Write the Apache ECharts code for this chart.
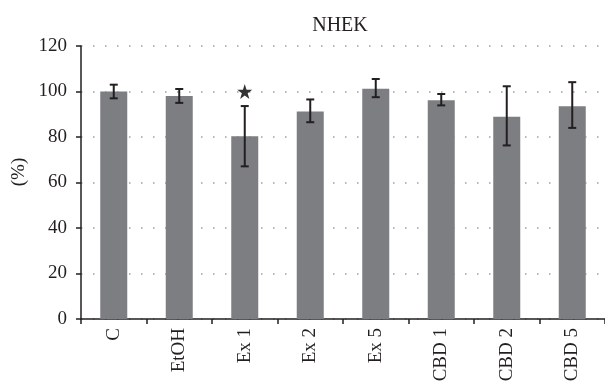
<!DOCTYPE html>
<html>
<head>
<meta charset="utf-8">
<script src="https://cdn.jsdelivr.net/npm/echarts@6/dist/echarts.min.js"></script>
<style>
html, body { margin: 0; padding: 0; background: #fff; }
#chart { width: 605px; height: 387px; }
</style>
</head>
<body>
<div id="chart"></div>
<script>
// Cell viability of NHEK cells per treatment (% of control)
const categories = ['C', 'EtOH', 'Ex 1', 'Ex 2', 'Ex 5', 'CBD 1', 'CBD 2', 'CBD 5'];
const meanValues = [100, 98, 80.3, 91.2, 101.2, 96.2, 88.9, 93.5];
const errLow = [97, 95, 67.1, 86.5, 97.5, 93.9, 76.3, 84.0];
const errHigh = [103, 101.1, 93.6, 96.5, 105.5, 98.9, 102.3, 104.1];
const yTicks = [0, 20, 40, 60, 80, 100, 120];
// significance marker: [category, y]
const starMarks = [['Ex 1', 100]];

const serif = '"Liberation Serif", "DejaVu Serif", serif';
const ink = '#231f20';

const chart = echarts.init(document.getElementById('chart'));

const errorData = categories.map((c, i) => [i, errLow[i], errHigh[i]]);

chart.setOption({
  animation: false,
  title: {
    text: 'NHEK',
    left: 335,
    top: 11,
    textAlign: 'center',
    textStyle: { fontFamily: serif, fontSize: 20, fontWeight: 'normal', color: ink }
  },
  graphic: [{
    type: 'text',
    x: 19, y: 172,
    rotation: Math.PI / 2,
    style: {
      text: '(%)', fontFamily: serif, fontSize: 19, fill: ink,
      align: 'center', verticalAlign: 'middle'
    }
  }],
  grid: { left: 81, right: -1, top: 46, bottom: 68 },
  xAxis: {
    type: 'category',
    data: categories,
    boundaryGap: true,
    axisLine: { lineStyle: { color: ink, width: 1.5 } },
    axisTick: { show: true, length: 5, lineStyle: { color: ink, width: 1.5 } },
    axisLabel: {
      rotate: 90, margin: 9, fontFamily: serif, fontSize: 19, color: ink, interval: 0
    }
  },
  yAxis: {
    type: 'value',
    min: yTicks[0],
    max: yTicks[yTicks.length - 1],
    interval: 20,
    axisLine: { show: true, lineStyle: { color: ink, width: 1.5 } },
    axisTick: { show: true, length: 5, lineStyle: { color: ink, width: 1.5 } },
    axisLabel: { margin: 14, fontFamily: serif, fontSize: 19, color: ink },
    splitLine: { show: true, lineStyle: { color: '#a0a0a0', width: 1.5, type: [1.5, 10.5] } }
  },
  series: [
    {
      type: 'bar',
      data: meanValues,
      barWidth: 27,
      itemStyle: { color: '#7d7e82' },
      z: 2
    },
    {
      type: 'custom',
      data: errorData,
      z: 3,
      renderItem: function (params, api) {
        const x = api.value(0);
        const lo = api.coord([x, api.value(1)]);
        const hi = api.coord([x, api.value(2)]);
        const half = 4;
        const style = { stroke: ink, lineWidth: 2 };
        return {
          type: 'group',
          children: [
            { type: 'line', shape: { x1: lo[0], y1: lo[1], x2: hi[0], y2: hi[1] }, style: style },
            { type: 'line', shape: { x1: hi[0] - half, y1: hi[1], x2: hi[0] + half, y2: hi[1] }, style: style },
            { type: 'line', shape: { x1: lo[0] - half, y1: lo[1], x2: lo[0] + half, y2: lo[1] }, style: style }
          ]
        };
      }
    },
    {
      type: 'scatter',
      data: starMarks,
      symbol: 'path://M50,0 L61.8,35.1 L98.9,35.1 L68.9,56.9 L80.3,92.1 L50,70.4 L19.7,92.1 L31.1,56.9 L1.1,35.1 L38.2,35.1 Z',
      symbolSize: 15,
      itemStyle: { color: '#000' },
      z: 4
    }
  ]
});
</script>
</body>
</html>
